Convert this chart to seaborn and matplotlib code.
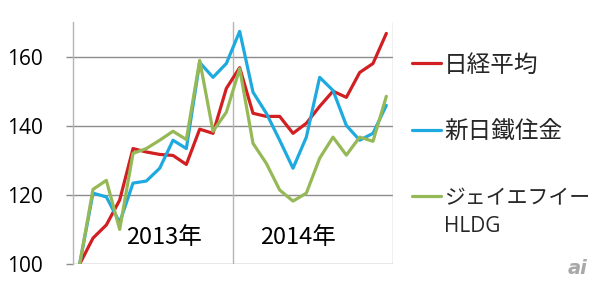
import matplotlib
matplotlib.use("Agg")
import matplotlib.pyplot as plt
import seaborn as sns
import pandas as pd
import numpy as np

months = list(range(24))
nikkei = [100, 107.5, 111.3, 118.5, 133.4, 132.4, 131.7, 131.4, 128.8, 139, 137.8, 150.8,
          156.8, 143.6, 142.7, 142.7, 137.8, 140.7, 145.6, 150, 148.2, 155.4, 158, 166.7]
nssmc = [100, 120.5, 119.4, 112, 123.4, 124, 127.7, 135.8, 133.4, 158.3, 154, 158,
         167.3, 149.7, 143.6, 135.8, 127.7, 136.7, 154, 150.2, 140.1, 135.8, 137.8, 145.9]
jfe = [100, 121.6, 124.2, 110, 132, 133.4, 135.8, 138.4, 136, 158.9, 138.4, 143.9,
       156.5, 134.9, 129.1, 121.4, 118.2, 120.5, 130.6, 136.7, 131.5, 136.7, 135.5, 148.5]
series_names = ["日経平均", "新日鐵住金", "ジェイエフイー"]
year_labels = ["2013年", "2014年"]
yticks = [100, 120, 140, 160]
colors = ["#D21F22", "#1FAADF", "#96B957"]

df = pd.DataFrame({"month": months * 3,
                   "value": nikkei + nssmc + jfe,
                   "series": [series_names[0]] * 24 + [series_names[1]] * 24 + [series_names[2]] * 24})

sns.set_theme(style="white")
plt.rcParams['font.family'] = ['Noto Sans CJK JP', 'DejaVu Sans']

fig = plt.figure(figsize=(6, 2.87), dpi=100)
ax = fig.add_axes([0.1217, 0.0801, 0.5333, 0.8432])

sns.lineplot(data=df, x="month", y="value", hue="series", palette=colors,
             linewidth=2.3, ax=ax, legend=False)

ax.set_xlim(-0.5, 23.5)
ax.set_ylim(100, 170)
ax.set_yticks(yticks)
ax.set_yticklabels([str(t) for t in yticks], fontsize=15, family=['Open Sans', 'DejaVu Sans'])
ax.set_xticks([])
ax.set_xlabel("")
ax.set_ylabel("")
for t in yticks:
    ax.axhline(t, color="#8c8c8c", linewidth=1.0, zorder=0)
for xv in [11.5, 23.5]:
    ax.axvline(xv, color="#b5b5b5", linewidth=1.0, zorder=0)
for s in ["top", "right", "bottom"]:
    ax.spines[s].set_visible(False)
ax.spines["left"].set_color("#b5b5b5")
ax.spines["left"].set_linewidth(1.0)
ax.tick_params(axis="y", which="both", left=True, length=5, width=1.0, color="#8c8c8c",
               pad=17, labelcolor="black")

ax.text(6.3, 107.8, year_labels[0], fontsize=17, ha="center", va="center", color="black")
ax.text(16.4, 107.8, year_labels[1], fontsize=17, ha="center", va="center", color="black")

# legend
from matplotlib.lines import Line2D
handles = [Line2D([0], [0], color=c, linewidth=2.3) for c in colors]
leg = ax.legend(handles, series_names, loc="upper left", bbox_to_anchor=(1.06, 0.87),
                frameon=False, fontsize=17, handlelength=1.2, handletextpad=0.15,
                labelspacing=1.85, borderaxespad=0, borderpad=0)
leg.get_texts()[2].set_fontsize(15)
fig.text(444 / 600, 1 - 226 / 287, "HLDG", fontsize=15, ha="left", va="center",
         family=['Open Sans', 'DejaVu Sans'])

fig.text(578 / 600, 1 - 268 / 287, "ai", fontsize=14, ha="center", va="center",
         color="#a8a8a8", style="italic", weight="bold", family=['DejaVu Sans'])

fig.savefig("out.png", dpi=100)
